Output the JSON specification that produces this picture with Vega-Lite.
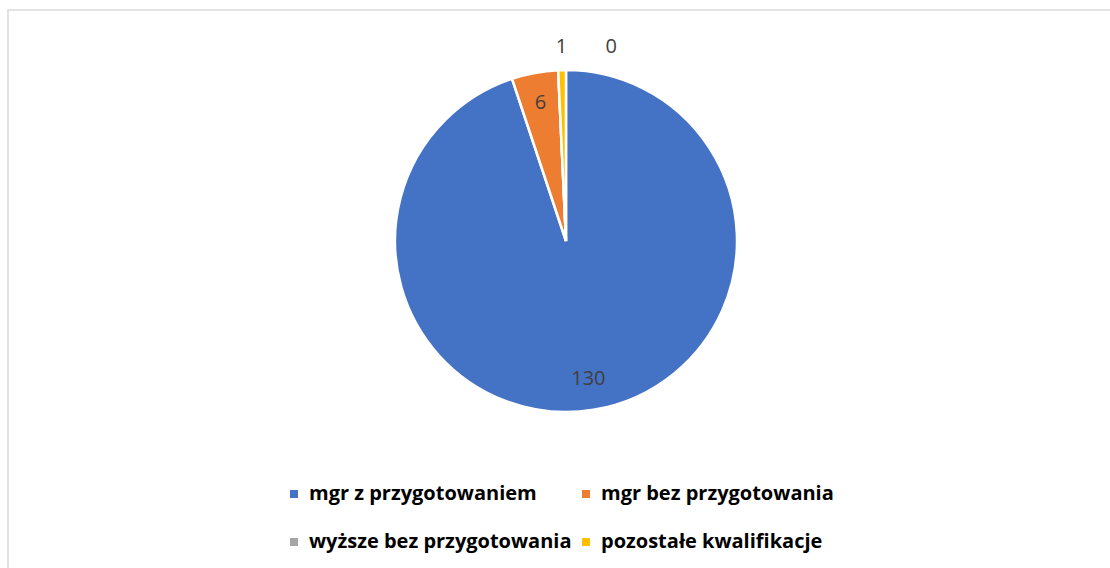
{
  "$schema": "https://vega.github.io/schema/vega-lite/v6.json",
  "width": 1110,
  "height": 566,
  "padding": {"left": 8, "top": 10, "right": 0, "bottom": 0},
  "autosize": {"type": "none"},
  "background": "white",
  "config": {"view": {"stroke": "#d9d9d9", "strokeWidth": 1.5}, "font": "Open Sans"},
  "data": {"values": [
    {"idx": 1, "kat": "mgr z przygotowaniem", "value": 130},
    {"idx": 2, "kat": "mgr bez przygotowania", "value": 6},
    {"idx": 3, "kat": "wyższe bez przygotowania", "value": 0},
    {"idx": 4, "kat": "pozostałe kwalifikacje", "value": 1}
  ]},
  "encoding": {
    "theta": {"field": "value", "type": "quantitative", "stack": true},
    "order": {"field": "idx", "type": "quantitative"},
    "x": {"value": 558},
    "y": {"value": 231}
  },
  "layer": [
    {
      "mark": {"type": "arc", "outerRadius": 171, "stroke": "white", "strokeWidth": 2.5},
      "encoding": {
        "color": {
          "field": "kat", "type": "nominal",
          "scale": {
            "domain": ["mgr z przygotowaniem", "mgr bez przygotowania", "wyższe bez przygotowania", "pozostałe kwalifikacje"],
            "range": ["#4472C4", "#ED7D31", "#A5A5A5", "#FFC000"]
          },
          "legend": {
            "title": null, "orient": "none", "legendX": 276, "legendY": 474,
            "direction": "horizontal", "columns": 2,
            "symbolType": "square", "symbolSize": 64, "symbolStrokeWidth": 0,
            "labelFont": "Open Sans", "labelFontSize": 20, "labelFontWeight": "bold",
            "labelColor": "#000000", "labelLimit": 400, "labelOffset": 5,
            "rowPadding": 28, "columnPadding": 4
          }
        }
      }
    },
    {
      "mark": {"type": "text", "radius": 140, "fontSize": 20, "fill": "#404040"},
      "encoding": {"text": {"condition": {"test": "datum.value >= 6", "field": "value", "type": "quantitative"}, "value": ""}}
    },
    {
      "mark": {"type": "text", "radius": 194, "fontSize": 20, "fill": "#404040"},
      "encoding": {"text": {"condition": {"test": "datum.value == 1", "field": "value", "type": "quantitative"}, "value": ""}}
    },
    {
      "mark": {"type": "text", "radius": 194, "dx": 54, "fontSize": 20, "fill": "#404040"},
      "encoding": {"text": {"condition": {"test": "datum.value == 0", "field": "value", "type": "quantitative"}, "value": ""}}
    }
  ]
}
